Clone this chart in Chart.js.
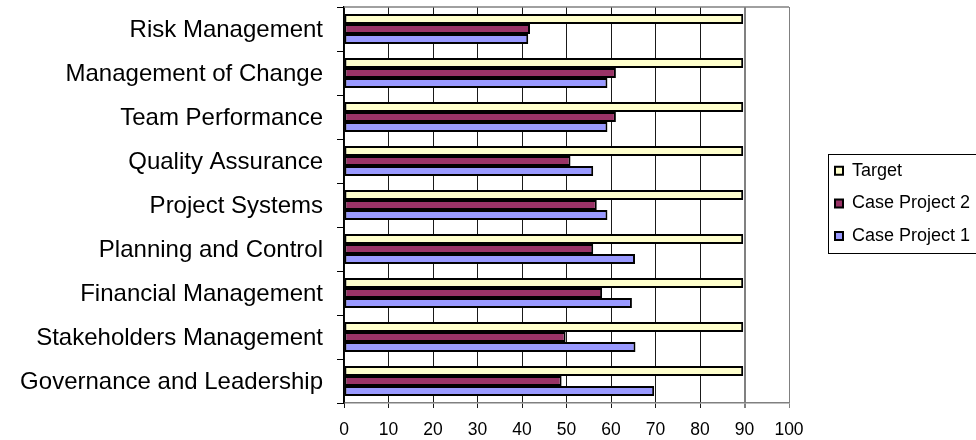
<!DOCTYPE html>
<html>
<head>
<meta charset="utf-8">
<script src="https://cdn.jsdelivr.net/npm/chart.js@4/dist/chart.umd.min.js"></script>
<style>
  html, body { margin: 0; padding: 0; background: #ffffff; }
  #wrap { width: 976px; height: 440px; position: relative; }
</style>
</head>
<body>
<div id="wrap"><canvas id="chart" width="976" height="440"></canvas></div>
<script>
// Assessment areas, listed top to bottom
const categories = [
  'Risk Management',
  'Management of Change',
  'Team Performance',
  'Quality Assurance',
  'Project Systems',
  'Planning and Control',
  'Financial Management',
  'Stakeholders Management',
  'Governance and Leadership'
];

const seriesNames = ['Target', 'Case Project 2', 'Case Project 1'];

const targetValues   = [89.7, 89.7, 89.7, 89.7, 89.7, 89.7, 89.7, 89.7, 89.7];
const project2Values = [41.8, 61.1, 61.1, 50.9, 56.8, 56.0, 58.0, 49.8, 48.9];
const project1Values = [41.4, 59.2, 59.2, 56.0, 59.2, 65.4, 64.7, 65.5, 69.7];

const xTickValues = [0, 10, 20, 30, 40, 50, 60, 70, 80, 90, 100];

const FONT = "'Liberation Sans', Arial, sans-serif";
const LEGEND_PAD = 14.7;

// Frame line along the top of the plot area
const plotFrame = {
  id: 'plotFrame',
  afterDraw(chart) {
    const { ctx, chartArea: a } = chart;
    ctx.save();
    ctx.strokeStyle = '#808080';
    ctx.lineWidth = 1.5;
    ctx.beginPath();
    ctx.moveTo(a.left, a.top);
    ctx.lineTo(a.right, a.top);
    ctx.stroke();
    ctx.restore();
  }
};

// Moves the legend off the plot edge and frames it with a box
const legendFrame = {
  id: 'legendFrame',
  afterLayout(chart) {
    const lg = chart.legend;
    if (!lg) return;
    const w = lg.width;
    lg.left = chart.chartArea.right + 46 - LEGEND_PAD;
    lg.right = lg.left + w;
    lg.top -= 1.6;
    lg.bottom -= 1.6;
  },
  afterDraw(chart) {
    const lg = chart.legend;
    if (!lg || !lg.legendHitBoxes || !lg.legendHitBoxes.length) return;
    const hb = lg.legendHitBoxes;
    const first = hb[0], last = hb[hb.length - 1];
    const x0 = first.left - 7.5;
    const y0 = first.top - 7.5;
    const y1 = last.top + last.height + 8;
    const { ctx } = chart;
    ctx.save();
    ctx.strokeStyle = '#000000';
    ctx.lineWidth = 1;
    ctx.strokeRect(Math.round(x0) + 0.5, Math.round(y0) + 0.5, chart.width + 10 - x0, Math.round(y1 - y0));
    ctx.restore();
  }
};

const data = {
  labels: categories,
  datasets: [
    { label: seriesNames[0], data: targetValues,   backgroundColor: '#FFFFCC' },
    { label: seriesNames[1], data: project2Values, backgroundColor: '#993366' },
    { label: seriesNames[2], data: project1Values, backgroundColor: '#9999FF' }
  ].map(d => Object.assign(d, { borderColor: '#000000', borderWidth: 2, borderSkipped: false }))
};

new Chart(document.getElementById('chart'), {
  type: 'bar',
  data,
  plugins: [plotFrame, legendFrame],
  options: {
    indexAxis: 'y',
    responsive: false,
    devicePixelRatio: 1,
    animation: false,
    layout: { padding: { top: 7, left: 0, right: 0, bottom: 0 } },
    datasets: { bar: { categoryPercentage: 0.68, barPercentage: 1.0 } },
    scales: {
      x: {
        type: 'linear',
        position: 'bottom',
        min: 0,
        max: 100,
        afterBuildTicks(scale) { scale.ticks = xTickValues.map(v => ({ value: v })); },
        afterFit(scale) { scale.height = 37; scale.paddingRight = 187; },
        ticks: {
          color: '#000000',
          font: { family: FONT, size: 17.5 },
          padding: 12,
          maxRotation: 0
        },
        grid: {
          color: c => (c.tick && c.tick.value >= 90) ? '#808080' : '#1a1a1a',
          lineWidth: c => (c.tick && c.tick.value === 90) ? 2 : 1,
          tickLength: 5,
          drawOnChartArea: true
        },
        border: { color: '#808080', width: 1.5 }
      },
      y: {
        type: 'category',
        offset: true,
        afterFit(scale) { scale.width = 344; scale.paddingTop = 0; scale.paddingBottom = 0; },
        ticks: {
          color: '#000000',
          font: { family: FONT, size: 24 },
          padding: 14,
          labelOffset: 1
        },
        grid: {
          offset: true,
          drawOnChartArea: false,
          tickLength: 7,
          color: '#000000',
          lineWidth: 1
        },
        border: { color: '#000000', width: 1.5 }
      }
    },
    plugins: {
      legend: {
        display: true,
        position: 'right',
        fullSize: false,
        align: 'center',
        labels: {
          color: '#000000',
          font: { family: FONT, size: 18 },
          boxWidth: 8,
          boxHeight: 8,
          padding: LEGEND_PAD
        }
      },
      tooltip: { enabled: false }
    }
  }
});
</script>
</body>
</html>
